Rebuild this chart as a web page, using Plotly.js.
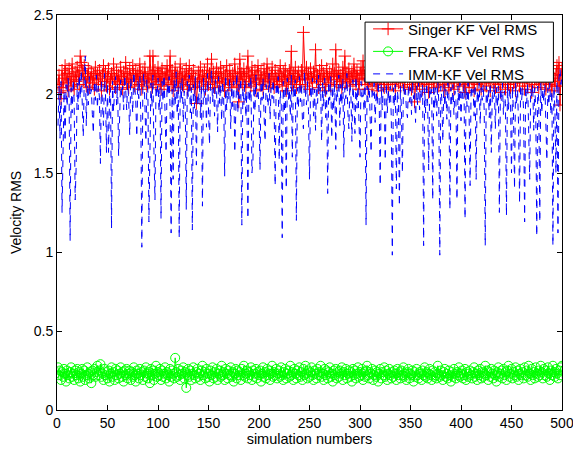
<!DOCTYPE html>
<html>
<head>
<meta charset="utf-8">
<script src="https://cdn.plot.ly/plotly-3.0.1.min.js"></script>
<style>
  html, body { margin: 0; padding: 0; background: #fff; }
  #chart { width: 573px; height: 452px; }
</style>
</head>
<body>
<div id="chart"></div>
<script>
// Velocity RMS per Monte-Carlo run, for three trackers.
const singerKF = [
  2.06,2.12,2.01,1.97,2.15,2.04,2.10,2.18,2.07,2.13,2.02,2.16,2.09,2.05,2.19,2.11,2.03,2.14,2.08,2.17,
  2.12,2.06,2.24,2.20,2.15,2.09,2.18,2.13,2.05,2.11,2.16,2.04,2.10,2.14,2.07,2.12,2.03,2.17,2.09,2.13,
  2.06,2.15,2.10,2.02,2.12,2.18,2.08,2.14,2.05,2.11,2.16,2.03,2.09,2.13,2.07,2.19,2.10,2.04,2.15,2.08,
  2.12,2.06,2.17,2.11,2.03,2.14,2.09,2.20,2.07,2.13,2.04,2.16,2.10,2.08,2.18,2.12,2.05,2.15,2.09,2.13,
  2.06,2.19,2.11,2.03,2.14,2.08,2.17,2.10,2.05,2.13,2.07,2.24,2.12,2.04,2.24,2.09,2.15,2.06,2.11,2.17,
  2.08,2.13,2.03,2.16,2.10,2.05,2.14,2.09,2.18,2.07,2.12,2.24,2.06,2.15,2.02,2.11,2.17,2.08,2.13,2.04,
  2.10,2.19,2.07,2.14,2.05,2.12,2.09,2.16,2.03,2.11,2.18,2.06,2.13,2.08,2.15,2.04,2.10,1.94,2.07,2.14,
  2.09,2.17,2.05,2.12,2.08,2.15,2.03,2.11,2.19,2.06,2.13,2.10,2.22,2.07,2.14,2.04,2.11,2.16,2.08,2.13,
  2.05,2.17,2.10,2.07,2.14,2.02,2.12,2.18,2.09,2.06,2.15,2.11,2.04,2.13,2.08,2.19,2.10,2.05,2.14,1.95,
  2.22,2.09,2.13,2.06,2.16,2.11,2.04,2.14,2.24,2.08,2.12,2.05,2.17,2.10,2.07,2.15,2.02,2.12,2.18,2.09,
  2.06,2.14,2.10,2.03,2.16,2.08,2.12,2.19,2.07,2.13,2.05,2.11,2.17,2.09,2.04,2.15,2.10,2.06,2.13,2.08,
  2.18,2.11,2.05,2.14,2.09,2.16,2.02,2.12,2.07,2.15,2.10,2.27,2.06,2.13,2.08,2.17,2.04,2.11,2.14,2.09,
  2.06,2.15,2.10,2.39,2.12,2.05,2.17,2.09,2.13,2.03,2.16,2.10,2.07,2.14,2.11,2.28,2.08,2.12,2.04,2.15,
  2.09,2.18,2.06,2.13,2.10,2.02,2.16,2.11,2.07,2.14,2.05,2.12,2.19,2.09,2.13,2.28,2.06,2.11,2.15,2.08,
  2.12,2.04,2.17,2.10,2.24,2.07,2.13,2.09,2.16,2.05,2.11,2.14,2.08,2.19,2.12,2.06,2.15,2.10,2.03,2.13,
  2.17,2.09,2.21,2.12,2.06,2.14,2.10,2.03,2.15,2.08,2.12,2.05,2.17,2.11,2.07,2.13,2.02,2.16,2.09,2.12,
  2.06,2.14,2.10,2.04,2.15,2.08,2.12,2.03,2.17,2.09,2.13,2.06,2.11,2.15,2.02,2.10,2.14,2.07,2.12,2.05,
  2.16,2.09,2.13,2.04,2.11,2.15,2.08,2.12,2.06,2.14,2.03,2.10,2.13,1.95,2.09,2.15,2.07,2.12,2.05,2.14,
  2.10,2.03,2.16,2.08,2.12,2.06,2.14,2.01,2.11,2.15,2.07,2.13,2.04,2.10,2.16,2.08,2.12,2.05,2.14,2.09,
  2.13,2.06,2.11,2.02,2.15,2.09,2.12,2.04,2.16,2.10,2.07,2.14,2.03,2.11,2.15,2.08,2.13,2.05,2.12,2.09,
  2.14,2.06,2.11,2.01,2.15,2.08,2.12,2.04,2.16,2.10,2.07,2.13,2.02,2.11,2.14,2.06,2.12,2.09,2.15,2.03,
  2.10,2.14,2.07,2.12,2.05,2.16,2.09,2.13,2.02,2.11,2.15,2.07,2.12,2.04,2.14,2.10,2.06,2.13,2.01,2.11,
  2.15,2.08,2.12,2.03,2.16,2.10,2.06,2.13,2.04,2.11,2.14,2.07,2.12,2.02,2.15,2.09,2.13,2.05,2.11,2.14,
  2.07,2.12,2.03,2.16,2.10,2.05,2.13,2.08,2.14,2.01,2.11,2.15,2.06,2.12,2.09,2.14,2.04,2.10,2.13,2.07,
  2.15,2.09,2.12,2.03,2.11,2.14,2.06,2.13,2.08,2.02,2.16,2.10,2.05,2.12,2.18,2.05,2.20,1.93,2.12,2.16
];

const fraKF = [
  0.27,0.22,0.25,0.19,0.24,0.21,0.26,0.23,0.18,0.25,0.22,0.20,0.24,0.27,0.21,0.23,0.19,0.25,0.22,0.26,
  0.20,0.24,0.18,0.23,0.26,0.21,0.25,0.19,0.22,0.27,0.23,0.20,0.24,0.17,0.25,0.22,0.26,0.21,0.24,0.28,
  0.22,0.25,0.29,0.21,0.23,0.19,0.26,0.22,0.24,0.20,0.25,0.18,0.23,0.27,0.21,0.24,0.19,0.26,0.22,0.25,
  0.20,0.23,0.27,0.21,0.24,0.18,0.25,0.22,0.26,0.20,0.23,0.25,0.19,0.24,0.21,0.27,0.22,0.18,0.25,0.23,
  0.20,0.26,0.22,0.24,0.19,0.25,0.21,0.27,0.23,0.20,0.24,0.17,0.26,0.22,0.25,0.19,0.23,0.28,0.21,0.24,
  0.22,0.26,0.19,0.25,0.21,0.23,0.27,0.20,0.24,0.22,0.18,0.26,0.21,0.25,0.23,0.20,0.33,0.24,0.21,0.26,
  0.22,0.19,0.25,0.23,0.27,0.20,0.24,0.14,0.22,0.26,0.21,0.25,0.19,0.23,0.27,0.22,0.20,0.24,0.26,0.21,
  0.23,0.19,0.25,0.28,0.22,0.24,0.20,0.26,0.21,0.23,0.18,0.25,0.22,0.27,0.20,0.24,0.21,0.26,0.19,0.23,
  0.25,0.21,0.28,0.22,0.24,0.19,0.26,0.23,0.20,0.25,0.22,0.27,0.21,0.24,0.18,0.23,0.26,0.20,0.25,0.22,
  0.24,0.19,0.26,0.22,0.28,0.21,0.23,0.25,0.20,0.24,0.22,0.27,0.19,0.25,0.21,0.23,0.26,0.20,0.24,0.22,
  0.25,0.18,0.23,0.27,0.21,0.24,0.20,0.26,0.22,0.25,0.19,0.23,0.28,0.21,0.24,0.22,0.26,0.20,0.23,0.25,
  0.21,0.27,0.22,0.19,0.24,0.26,0.20,0.23,0.25,0.21,0.28,0.22,0.24,0.19,0.26,0.23,0.20,0.25,0.22,0.27,
  0.21,0.24,0.19,0.26,0.22,0.28,0.23,0.20,0.25,0.21,0.24,0.27,0.22,0.19,0.25,0.23,0.20,0.26,0.22,0.24,
  0.28,0.21,0.23,0.19,0.26,0.22,0.25,0.20,0.24,0.27,0.21,0.23,0.18,0.25,0.22,0.26,0.20,0.24,0.21,0.25,
  0.23,0.27,0.19,0.24,0.22,0.26,0.20,0.23,0.25,0.21,0.24,0.18,0.26,0.22,0.25,0.20,0.23,0.27,0.21,0.24,
  0.22,0.26,0.19,0.24,0.21,0.25,0.28,0.22,0.20,0.24,0.23,0.26,0.19,0.22,0.25,0.21,0.24,0.18,0.23,0.26,
  0.20,0.24,0.22,0.27,0.21,0.25,0.19,0.23,0.26,0.22,0.20,0.24,0.21,0.25,0.23,0.19,0.26,0.22,0.24,0.20,
  0.25,0.22,0.27,0.21,0.23,0.19,0.24,0.26,0.20,0.23,0.22,0.25,0.18,0.24,0.21,0.26,0.22,0.20,0.24,0.23,
  0.19,0.25,0.22,0.27,0.21,0.24,0.20,0.23,0.26,0.22,0.19,0.25,0.21,0.24,0.22,0.20,0.28,0.23,0.21,0.25,
  0.22,0.19,0.24,0.26,0.21,0.23,0.20,0.25,0.22,0.18,0.24,0.21,0.26,0.23,0.20,0.24,0.22,0.27,0.21,0.23,
  0.25,0.20,0.22,0.26,0.19,0.24,0.21,0.23,0.25,0.22,0.20,0.24,0.27,0.21,0.23,0.19,0.25,0.22,0.26,0.20,
  0.24,0.21,0.23,0.28,0.22,0.25,0.19,0.24,0.21,0.26,0.23,0.20,0.25,0.22,0.18,0.24,0.27,0.21,0.23,0.25,
  0.20,0.26,0.22,0.24,0.19,0.25,0.28,0.21,0.23,0.26,0.20,0.24,0.22,0.27,0.21,0.25,0.19,0.23,0.26,0.22,
  0.24,0.20,0.27,0.22,0.25,0.21,0.28,0.23,0.19,0.26,0.22,0.24,0.20,0.27,0.23,0.21,0.25,0.22,0.28,0.24,
  0.20,0.26,0.22,0.25,0.21,0.27,0.23,0.19,0.25,0.22,0.28,0.24,0.21,0.26,0.23,0.20,0.25,0.22,0.27,0.28
];

const immKF = [
  1.80,2.05,1.72,2.08,1.25,1.58,2.02,1.70,2.06,1.92,2.10,1.98,1.07,2.04,1.88,2.09,1.95,1.33,1.55,2.07,
  1.90,2.12,1.97,2.15,1.86,1.73,2.10,2.24,1.80,2.06,1.93,2.11,1.99,2.03,1.87,1.75,2.08,1.96,2.12,1.91,
  2.05,1.98,1.56,2.09,1.94,1.80,2.13,2.01,1.63,2.07,1.63,1.97,2.04,1.15,2.08,1.89,2.02,2.11,1.93,2.06,
  1.61,1.82,2.09,1.99,2.05,1.90,2.12,2.03,1.90,2.07,1.96,1.74,2.10,2.00,1.88,2.14,2.04,1.95,1.73,2.08,
  1.97,2.11,1.86,1.03,2.06,2.13,1.94,1.70,2.09,2.01,1.19,1.60,2.07,1.92,2.12,1.63,1.33,2.05,1.98,2.10,
  1.89,2.04,1.21,2.08,1.95,2.12,1.84,1.63,2.06,1.99,2.11,1.90,1.12,2.03,1.46,2.09,1.93,2.14,1.87,2.05,
  1.09,2.07,1.96,2.10,1.82,2.02,1.94,1.27,2.08,1.98,2.12,1.88,2.04,1.14,2.06,1.91,2.11,1.55,2.00,1.93,
  2.09,1.85,2.05,1.29,2.10,1.97,2.03,1.79,2.13,1.92,1.68,2.07,2.15,1.95,2.04,1.86,2.09,2.01,1.76,2.11,
  1.94,2.06,1.83,2.08,1.99,1.48,2.12,1.90,2.03,1.96,2.10,1.78,2.05,1.92,2.08,1.63,2.01,2.13,1.88,2.06,
  1.97,2.10,1.17,2.04,1.93,2.09,1.85,2.02,1.21,2.07,1.95,2.11,1.50,1.58,2.05,1.89,2.12,1.98,2.03,1.91,
  1.52,2.08,1.96,2.10,1.87,1.70,2.06,2.00,1.92,2.13,1.84,2.04,1.97,2.09,1.90,1.42,2.07,1.99,2.11,1.58,
  2.02,1.94,1.09,2.08,1.88,2.05,1.40,2.10,1.96,2.03,1.86,2.12,1.60,2.06,1.98,2.09,1.20,2.04,1.91,2.11,
  1.95,2.07,1.83,1.78,2.14,2.00,1.93,2.08,1.89,1.46,2.05,1.97,2.10,1.86,2.03,1.77,2.09,1.94,2.12,1.99,
  2.04,1.70,2.07,1.92,2.10,1.85,2.02,1.37,2.08,1.96,2.11,1.72,2.05,1.90,2.09,1.65,2.03,1.98,2.12,1.80,
  2.06,1.93,2.10,1.60,2.04,1.97,2.13,1.88,1.78,2.07,2.00,1.70,2.09,1.94,1.75,2.11,1.91,2.05,1.84,1.60,
  2.08,1.98,2.03,1.89,2.10,1.17,2.05,1.95,2.09,1.86,1.63,2.04,1.99,2.07,1.82,2.02,1.93,2.08,1.96,1.42,
  2.06,1.90,2.04,1.97,1.58,2.07,1.88,2.03,1.94,2.05,1.85,0.98,2.04,1.92,2.06,1.40,2.02,1.96,1.29,2.05,
  1.91,1.50,2.07,1.99,2.03,1.89,1.85,2.06,1.95,2.04,1.87,2.08,1.97,2.02,1.82,2.05,1.93,2.07,1.90,2.03,
  1.96,2.06,1.04,2.04,1.88,2.07,1.94,1.52,2.05,1.98,2.03,1.33,2.06,1.91,2.04,1.86,2.08,1.95,0.98,2.05,
  1.97,1.70,2.06,1.92,2.03,1.84,2.07,1.99,1.27,2.04,1.93,2.06,1.87,2.02,1.96,1.33,2.05,1.90,2.07,1.83,
  2.03,1.97,2.06,1.21,2.04,1.92,2.07,1.88,1.42,2.05,1.98,2.03,1.86,2.06,1.46,2.02,1.94,2.07,1.81,2.04,
  1.96,2.06,1.89,1.04,2.05,1.93,2.03,1.85,2.07,1.63,2.02,1.97,2.06,1.78,2.04,1.91,2.05,1.25,2.03,1.95,
  2.07,1.87,2.02,1.94,1.23,2.06,1.90,2.04,1.97,1.50,2.05,1.86,1.40,2.07,1.93,2.03,1.80,1.31,2.06,1.96,
  2.04,1.89,1.19,2.05,1.94,2.07,1.84,1.46,2.03,1.98,2.06,1.77,2.04,1.92,1.10,2.05,1.96,1.19,2.07,1.88,
  2.03,1.95,2.06,1.82,1.58,2.04,1.93,2.07,1.87,2.02,1.04,2.05,1.90,1.50,2.08,1.12,2.10,2.16,2.06,2.12
];

const seriesNames = ['Singer KF Vel RMS', 'FRA-KF Vel RMS', 'IMM-KF Vel RMS'];
const xTicks = [0, 50, 100, 150, 200, 250, 300, 350, 400, 450, 500];
const yTicks = [0, 0.5, 1, 1.5, 2, 2.5];
const runs = singerKF.map((_, i) => i + 1);

const FONT = 'Liberation Sans, Arial, Helvetica, sans-serif';

const traces = [
  {
    x: runs, y: singerKF, name: seriesNames[0], type: 'scatter', mode: 'lines+markers',
    line: { color: '#ff0000', width: 1 },
    marker: { symbol: 'cross-thin-open', size: 9, color: '#ff0000', line: { color: '#ff0000', width: 1 } }
  },
  {
    x: runs, y: fraKF, name: seriesNames[1], type: 'scatter', mode: 'lines+markers',
    line: { color: '#00ff00', width: 1 },
    marker: { symbol: 'circle-open', size: 9, color: '#00ff00', line: { color: '#00ff00', width: 1 } }
  },
  {
    x: runs, y: immKF, name: seriesNames[2], type: 'scatter', mode: 'lines',
    line: { color: '#0000ff', width: 1, dash: '7px,6px' }
  }
];

const axisCommon = {
  showline: true, linecolor: '#000', linewidth: 1, mirror: 'ticks',
  ticks: 'inside', ticklen: 5, tickcolor: '#000', tickwidth: 1,
  showgrid: false, zeroline: false, ticklabeloverflow: 'allow',
  tickfont: { family: FONT, size: 14, color: '#000' }
};

const layout = {
  width: 573, height: 452,
  margin: { l: 57, r: 11, t: 15, b: 42 },
  paper_bgcolor: '#fff', plot_bgcolor: '#fff',
  showlegend: true,
  // legend frame: white box with a thin black border above the traces
  shapes: [{
    type: 'rect', xref: 'paper', yref: 'paper', layer: 'above',
    x0: 0.610, x1: 0.983, y0: 0.830, y1: 0.982,
    fillcolor: '#fff', line: { color: '#000', width: 1 }
  }],
  legend: {
    x: 0.616, xanchor: 'left', y: 1.006, yanchor: 'top',
    bgcolor: 'rgba(0,0,0,0)', borderwidth: 0,
    font: { family: FONT, size: 15, color: '#000' },
    tracegroupgap: 0
  },
  xaxis: Object.assign({}, axisCommon, {
    range: [0, 500], tickvals: xTicks, ticktext: xTicks.map(String),
    title: { text: 'simulation numbers', font: { family: FONT, size: 14.5, color: '#000' }, standoff: 4 }
  }),
  yaxis: Object.assign({}, axisCommon, {
    range: [0, 2.5], tickvals: yTicks, ticktext: yTicks.map(String),
    title: { text: 'Velocity RMS', font: { family: FONT, size: 14, color: '#000' }, standoff: 8 }
  })
};

Plotly.newPlot('chart', traces, layout, { displayModeBar: false, staticPlot: true });
</script>
</body>
</html>
